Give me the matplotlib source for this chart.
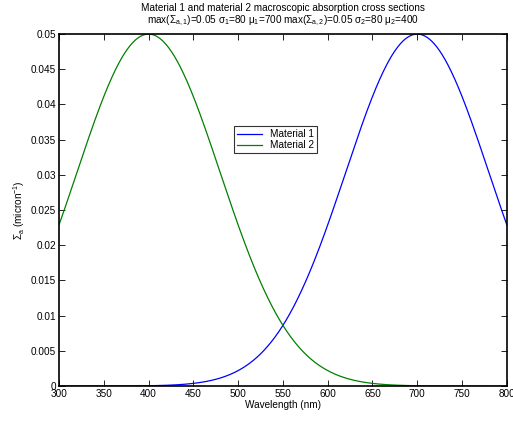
import numpy as np
import matplotlib
matplotlib.use("Agg")
import matplotlib.pyplot as plt

plt.rcParams['font.family'] = ['Liberation Sans', 'DejaVu Sans']
plt.rcParams['mathtext.fontset'] = 'custom'
plt.rcParams['mathtext.rm'] = 'Liberation Sans'
plt.rcParams['mathtext.it'] = 'Liberation Sans'

# Gaussian absorption parameters for the two materials
sigma_max = [0.05, 0.05]
sigma_width = [80, 80]
mu_center = [700, 400]
labels = ["Material 1", "Material 2"]
colors = ["#0000ff", "#008000"]

wavelength = np.linspace(300, 800, 501)

fig = plt.figure(figsize=(5.13, 4.21), dpi=100)
ax = fig.add_axes([0.115, 0.083, 0.873, 0.836])

for smax, sw, mu, lab, c in zip(sigma_max, sigma_width, mu_center, labels, colors):
    y = smax * np.exp(-(wavelength - mu) ** 2 / (2 * sw ** 2))
    ax.plot(wavelength, y, color=c, lw=0.9, label=lab)

ax.set_xlim(300, 800)
ax.set_ylim(0, 0.05)
ax.set_xticks(np.arange(300, 801, 50))
ax.set_yticks(np.arange(0, 0.0501, 0.005))
ax.set_yticklabels(["0", "0.005", "0.01", "0.015", "0.02", "0.025", "0.03",
                    "0.035", "0.04", "0.045", "0.05"])
ax.tick_params(direction='in', top=True, right=True, labelsize=7.2, length=4, width=0.6, pad=2)
for s in ax.spines.values():
    s.set_linewidth(1.2)

ax.set_xlabel("Wavelength (nm)", fontsize=7.2, labelpad=1)
ax.set_ylabel(r"$\Sigma_a$ (micron$^{-1}$)", fontsize=7.2, labelpad=3)
ax.set_title("Material 1 and material 2 macroscopic absorption cross sections\n"
             r"max($\Sigma_{a,1}$)=0.05 $\sigma_1$=80 $\mu_1$=700 "
             r"max($\Sigma_{a,2}$)=0.05 $\sigma_2$=80 $\mu_2$=400",
             fontsize=7.2, pad=8, linespacing=1.05)

leg = ax.legend(loc='center', bbox_to_anchor=(0.484, 0.70), fontsize=7.2,
                frameon=True, fancybox=False, edgecolor='black',
                handlelength=2.5, borderpad=0.3, labelspacing=0.1, borderaxespad=0)
leg.get_frame().set_linewidth(0.8)

fig.savefig("out.png", dpi=100)
